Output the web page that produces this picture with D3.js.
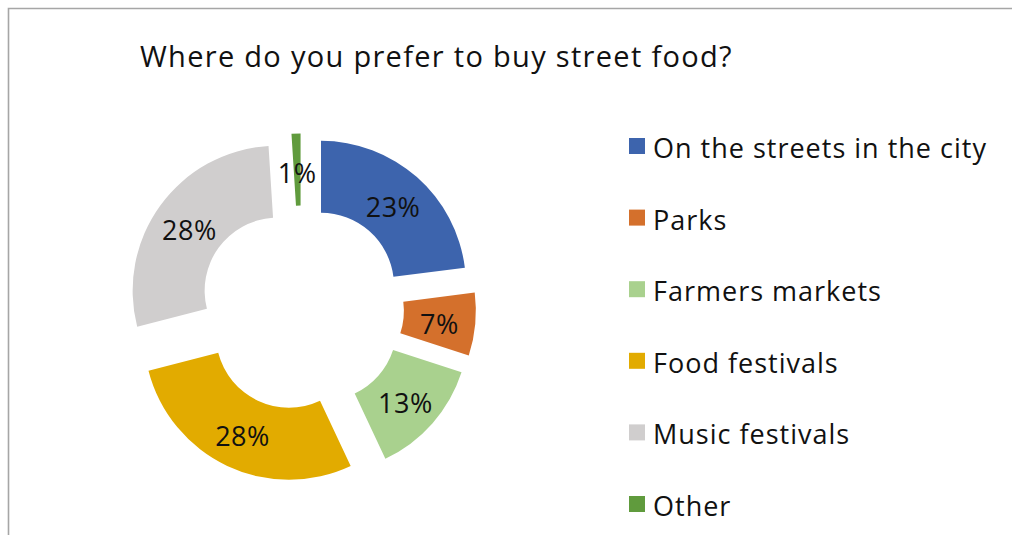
<!DOCTYPE html>
<html>
<head>
<meta charset="utf-8">
<script src="https://cdn.jsdelivr.net/npm/d3@7"></script>
<style>
  html, body { margin: 0; padding: 0; background: #fff; }
  svg { display: block; }
  text { font-family: "Open Sans", "Noto Sans", sans-serif; fill: #111; }
</style>
</head>
<body>
<svg id="chart" width="1012" height="535"></svg>
<script>
// Survey answers: where people prefer to buy street food (percent)
const categories = ["On the streets in the city", "Parks", "Farmers markets", "Food festivals", "Music festivals", "Other"];
const shares = [23, 7, 13, 28, 28, 1];
const colors = ["#3D64AD", "#D4702C", "#A9D18E", "#E2AB00", "#D0CECE", "#609B3D"];
const titleText = "Where do you prefer to buy street food?";

const W = 1012, H = 535;
const svg = d3.select("#chart");

// chart frame (left and top edges visible)
svg.append("path")
  .attr("d", `M8.5,${H} L8.5,8.5 L${W},8.5`)
  .attr("fill", "none")
  .attr("stroke", "#a6a6a6")
  .attr("stroke-width", 1.6);

// title
svg.append("text")
  .attr("x", 140)
  .attr("y", 67)
  .attr("font-size", 29)
  .attr("letter-spacing", 1.3)
  .text(titleText);

// exploded doughnut
const cx = 301.5, cy = 308;
const outerR = 145, innerR = 73, explode = 29.5;

const data = categories.map((c, i) => ({ name: c, value: shares[i], color: colors[i] }));
const pie = d3.pie().value(d => d.value).sort(null).startAngle(0).endAngle(2 * Math.PI);
const arc = d3.arc().innerRadius(innerR).outerRadius(outerR);

const g = svg.append("g").attr("transform", `translate(${cx},${cy})`);
const slices = g.selectAll("g.slice")
  .data(pie(data))
  .join("g")
  .attr("class", "slice")
  .attr("transform", d => {
    const mid = (d.startAngle + d.endAngle) / 2;
    return `translate(${Math.sin(mid) * explode},${-Math.cos(mid) * explode})`;
  });

slices.append("path")
  .attr("d", arc)
  .attr("fill", d => d.data.color);

slices.append("text")
  .attr("transform", d => { const [x, y] = arc.centroid(d); return `translate(${x},${y})`; })
  .attr("text-anchor", "middle")
  .attr("dy", "0.48em")
  .attr("font-size", 27)
  .attr("letter-spacing", 0.5)
  .text(d => d.data.value + "%");

// legend
const yLegend = d3.scalePoint().domain(categories).range([146, 504]);
const legend = svg.append("g").selectAll("g")
  .data(data)
  .join("g")
  .attr("transform", d => `translate(629,${yLegend(d.name)})`);

legend.append("rect")
  .attr("x", 0).attr("y", -8)
  .attr("width", 16).attr("height", 16)
  .attr("fill", d => d.color);

legend.append("text")
  .attr("x", 24)
  .attr("y", 12)
  .attr("font-size", 27)
  .attr("letter-spacing", 1.0)
  .text(d => d.name);
</script>
</body>
</html>
